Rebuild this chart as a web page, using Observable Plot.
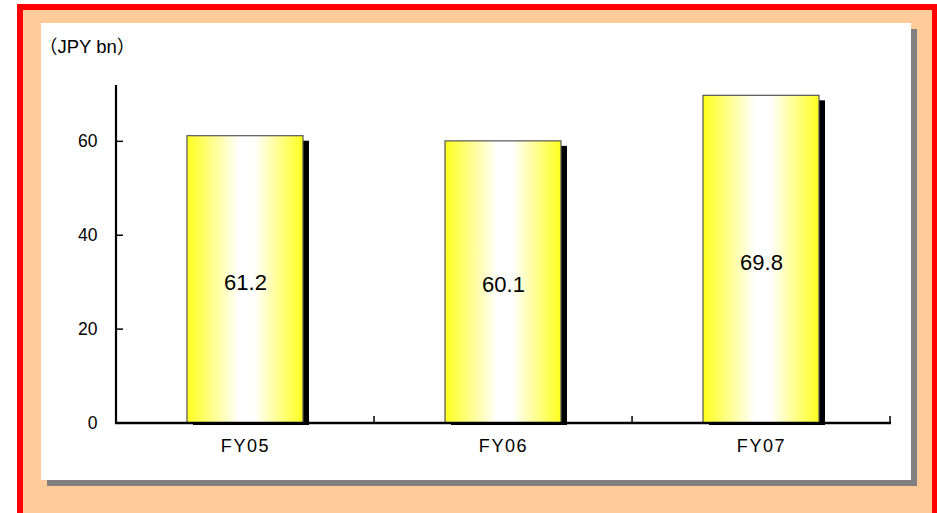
<!DOCTYPE html>
<html>
<head>
<meta charset="utf-8">
<script src="https://cdn.jsdelivr.net/npm/d3@7"></script>
<script src="https://cdn.jsdelivr.net/npm/@observablehq/plot@0.6"></script>
<style>
  html, body { margin: 0; padding: 0; background: #ffffff; }
  #page { position: relative; width: 937px; height: 513px; overflow: hidden; }
  .layer { position: absolute; }
  #chart { position: absolute; left: 0; top: 0; }
  #chart [aria-label="x-axis tick label"] text { letter-spacing: 1.6px; }
</style>
</head>
<body>
<div id="page">
  <!-- framed card: red border, peach mat, white panel with grey drop shadow -->
  <div class="layer" style="left:17px;top:4px;width:920px;height:520px;background:#ff0000"></div>
  <div class="layer" style="left:23px;top:10px;width:909px;height:510px;background:#ffcc99"></div>
  <div class="layer" style="left:47px;top:29px;width:870px;height:457px;background:#808080"></div>
  <div class="layer" style="left:41px;top:23px;width:870px;height:457px;background:#ffffff"></div>
  <svg width="0" height="0" style="position:absolute">
    <defs>
      <linearGradient id="barGradient" x1="0" x2="1" y1="0" y2="0">
        <stop offset="0" stop-color="#ffff1e"/>
        <stop offset="0.45" stop-color="#ffffff"/>
        <stop offset="0.58" stop-color="#ffffff"/>
        <stop offset="1" stop-color="#ffff1e"/>
      </linearGradient>
    </defs>
  </svg>
  <div id="chart"></div>
</div>
<script>
const fiscalYears = ["FY05", "FY06", "FY07"];
const amounts = [61.2, 60.1, 69.8];
const yTicks = [0, 20, 40, 60];
const unitLabel = "（JPY bn）";

const rows = fiscalYears.map((year, i) => ({year, value: amounts[i]}));

const PAD_INNER = 0.55;
const PAD_OUTER = 0.275;

// Axis lines with inward ticks, category separators and the unit caption
function axisFrame(index, scales, values, dims) {
  const {x, y} = scales;
  const g = d3.create("svg:g").attr("fill", "none").attr("stroke", "#000");
  const left = dims.marginLeft;
  const right = dims.width - dims.marginRight;
  const base = y(0);
  const top = y(72);
  g.append("line")
    .attr("x1", left).attr("x2", left)
    .attr("y1", top).attr("y2", base + 1)
    .attr("stroke-width", 2.2);
  g.append("line")
    .attr("x1", left - 1).attr("x2", right + 1)
    .attr("y1", base).attr("y2", base)
    .attr("stroke-width", 2.5);
  for (const t of yTicks.filter((t) => t > 0)) {
    g.append("line")
      .attr("x1", left).attr("x2", left + 7)
      .attr("y1", y(t)).attr("y2", y(t))
      .attr("stroke-width", 1.5);
  }
  const step = x(fiscalYears[1]) - x(fiscalYears[0]);
  for (const yr of fiscalYears) {
    const bx = x(yr) - step * PAD_OUTER + step;
    g.append("line")
      .attr("x1", bx).attr("x2", bx)
      .attr("y1", base).attr("y2", base - 7)
      .attr("stroke-width", 1.5);
  }
  g.append("text")
    .attr("x", 39).attr("y", 53)
    .attr("text-anchor", "start")
    .attr("fill", "#000").attr("stroke", "none")
    .attr("font-size", 18.5)
    .text(unitLabel);
  return g.node();
}

const chart = Plot.plot({
  width: 937,
  height: 513,
  marginLeft: 116,
  marginRight: 47,
  marginTop: 85,
  marginBottom: 90,
  style: {
    background: "transparent",
    fontFamily: "'Liberation Sans', Arial, 'Noto Sans CJK JP', sans-serif",
    fontSize: "17px",
    color: "#000",
    overflow: "visible"
  },
  x: {domain: fiscalYears, paddingInner: PAD_INNER, paddingOuter: PAD_OUTER, axis: null},
  y: {domain: [0, 72], axis: null},
  marks: [
    Plot.barY(rows, {x: "year", y: "value", fill: "#000", dx: 6, dy: 5, insetBottom: 3}),
    Plot.barY(rows, {x: "year", y: "value", fill: "url(#barGradient)", stroke: "#555", strokeWidth: 1.2}),
    Plot.axisY({ticks: yTicks, tickSize: 0, tickPadding: 19, fontSize: 17.5, label: null}),
    Plot.axisX({tickSize: 0, tickPadding: 16, fontSize: 18, label: null}),
    Plot.text(rows, {x: "year", y: (d) => d.value / 2, text: (d) => d.value.toFixed(1), fontSize: 22, dy: 3, fill: "#000"}),
    axisFrame
  ]
});

document.getElementById("chart").appendChild(chart);
</script>
</body>
</html>
